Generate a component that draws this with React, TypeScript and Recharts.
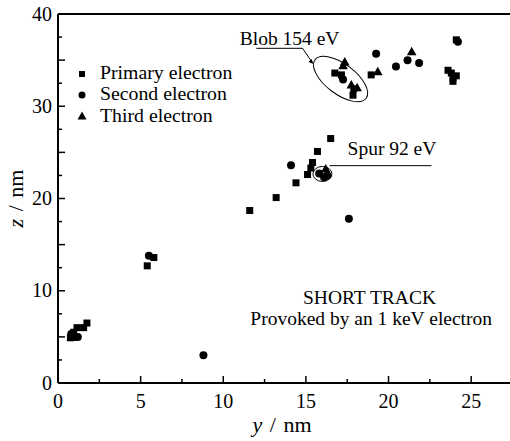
import React from 'react';
import {
  ScatterChart,
  Scatter,
  XAxis,
  YAxis,
  Legend,
  ReferenceLine,
  ReferenceDot,
  Label,
} from 'recharts';

// values (y and z in nm)
const primary = [
  { y: 0.75, z: 4.9 }, { y: 0.95, z: 5.5 }, { y: 1.15, z: 6.0 }, { y: 1.55, z: 6.0 },
  { y: 1.75, z: 6.5 }, { y: 5.4, z: 12.7 }, { y: 5.8, z: 13.6 }, { y: 11.6, z: 18.7 },
  { y: 13.2, z: 20.1 }, { y: 14.4, z: 21.7 }, { y: 15.1, z: 22.6 }, { y: 15.3, z: 23.3 },
  { y: 15.4, z: 23.9 }, { y: 15.7, z: 25.1 }, { y: 16.5, z: 26.5 }, { y: 16.75, z: 33.6 },
  { y: 17.15, z: 33.4 }, { y: 17.9, z: 31.9 }, { y: 17.85, z: 31.2 }, { y: 18.95, z: 33.4 },
  { y: 23.6, z: 33.9 }, { y: 23.8, z: 33.6 }, { y: 23.9, z: 33.1 }, { y: 23.9, z: 32.7 },
  { y: 24.1, z: 33.3 }, { y: 24.1, z: 37.2 },
];
const second = [
  { y: 0.8, z: 5.3 }, { y: 1.0, z: 5.0 }, { y: 1.2, z: 5.0 }, { y: 5.5, z: 13.8 },
  { y: 8.8, z: 3.0 }, { y: 14.1, z: 23.6 }, { y: 15.8, z: 22.7 }, { y: 16.1, z: 22.3 },
  { y: 16.3, z: 22.5 }, { y: 17.6, z: 17.8 }, { y: 17.25, z: 32.9 }, { y: 19.25, z: 35.7 },
  { y: 20.45, z: 34.3 }, { y: 21.15, z: 35.0 }, { y: 21.85, z: 34.7 }, { y: 24.2, z: 37.0 },
];
const third = [
  { y: 16.2, z: 23.2 }, { y: 17.35, z: 34.8 }, { y: 17.25, z: 34.4 }, { y: 17.75, z: 32.3 },
  { y: 18.1, z: 32.0 }, { y: 19.35, z: 33.75 }, { y: 21.4, z: 35.9 },
];

const yTicks = [0, 2.5, 5, 7.5, 10, 12.5, 15, 17.5, 20, 22.5, 25];
const zTicks = [0, 2.5, 5, 7.5, 10, 12.5, 15, 17.5, 20, 22.5, 25, 27.5, 30, 32.5, 35, 37.5, 40];

const seriesNames = ['Primary electron', 'Second electron', 'Third electron'];
const blobLabel = 'Blob 154 eV';
const spurLabel = 'Spur 92 eV';
const noteLines = ['SHORT TRACK', 'Provoked by an 1 keV electron'];

const font = "'Liberation Serif', 'DejaVu Serif', serif";

const Square = (p: any) => (
  <rect x={p.cx - 3.5} y={p.cy - 3.5} width={7} height={7} fill="#000" />
);
const Circle = (p: any) => <circle cx={p.cx} cy={p.cy} r={4} fill="#000" />;
const Triangle = (p: any) => (
  <polygon
    points={`${p.cx},${p.cy - 5} ${p.cx - 4.8},${p.cy + 3.5} ${p.cx + 4.8},${p.cy + 3.5}`}
    fill="#000"
  />
);

const XTick = (props: any) => {
  const { x, y, payload } = props;
  const v = payload.value;
  const major = v % 5 === 0;
  return (
    <g>
      <line x1={x} x2={x} y1={y} y2={y - (major ? 7 : 4)} stroke="#000" strokeWidth={1.5} />
      {major && (
        <text x={x} y={y + 25} textAnchor="middle" style={{ fontFamily: font }} fontSize={20} fill="#000">
          {v}
        </text>
      )}
    </g>
  );
};

const YTick = (props: any) => {
  const { x, y, payload } = props;
  const v = payload.value;
  const major = v % 5 === 0;
  return (
    <g>
      <line x1={x} x2={x + (major ? 7 : 4)} y1={y} y2={y} stroke="#000" strokeWidth={1.5} />
      {v % 10 === 0 && (
        <text x={x - 6} y={y + 6.5} textAnchor="end" style={{ fontFamily: font }} fontSize={20} fill="#000">
          {v}
        </text>
      )}
    </g>
  );
};

const legendIcons = [
  <rect key="s" x={5} y={3} width={6} height={6} fill="#000" />,
  <circle key="c" cx={8} cy={6} r={3.5} fill="#000" />,
  <polygon key="t" points="8,1.5 3.5,9.5 12.5,9.5" fill="#000" />,
];

const LegendBox = () => (
  <div style={{ fontFamily: font, fontSize: 19.8, color: '#000' }}>
    {seriesNames.map((name, i) => (
      <div key={name} style={{ display: 'flex', alignItems: 'center', height: 21.3 }}>
        <svg width={16} height={12} style={{ marginTop: 2 }}>
          {legendIcons[i]}
        </svg>
        <span style={{ marginLeft: 10, whiteSpace: 'nowrap' }}>{name}</span>
      </div>
    ))}
  </div>
);

const textShape = (content: string, anchor: string = 'start', size: number = 19.5) => (p: any) => (
  <text x={p.cx} y={p.cy} textAnchor={anchor} style={{ fontFamily: font }} fontSize={size} fill="#000">
    {content}
  </text>
);

export default function App() {
  return (
    <div style={{ position: 'absolute', left: 0, top: 0, width: 510, height: 441, background: '#fff', fontFamily: font }}>
      <ScatterChart width={510} height={441} margin={{ top: 14, right: 0, left: 8, bottom: 8 }} style={{ fontFamily: font }}>
        <XAxis
          dataKey="y"
          type="number"
          domain={[0, 27.35]}
          ticks={yTicks}
          interval={0}
          tickSize={0}
          tickMargin={0}
          tick={<XTick />}
          height={50}
          axisLine={{ stroke: '#000', strokeWidth: 2 }}
          allowDataOverflow
        >
          <Label
            content={(p: any) => {
              const vb = p.viewBox;
              return (
                <text x={vb.x + vb.width / 2 - 2} y={vb.y + 49} textAnchor="middle" style={{ fontFamily: font, wordSpacing: 2 }} fontSize={22} fill="#000">
                  <tspan fontStyle="italic">y</tspan> / nm
                </text>
              );
            }}
          />
        </XAxis>
        <YAxis
          dataKey="z"
          type="number"
          domain={[0, 40]}
          ticks={zTicks}
          interval={0}
          tickSize={0}
          tickMargin={0}
          tick={<YTick />}
          width={50}
          axisLine={{ stroke: '#000', strokeWidth: 2 }}
        >
          <Label
            content={(p: any) => {
              const vb = p.viewBox;
              const cx = vb.x + 15;
              const cy = vb.y + vb.height / 2;
              return (
                <text x={cx} y={cy} transform={`rotate(-90 ${cx} ${cy})`} textAnchor="middle" style={{ fontFamily: font, wordSpacing: 2 }} fontSize={22} fill="#000">
                  <tspan fontStyle="italic">z</tspan> / nm
                </text>
              );
            }}
          />
        </YAxis>
        <ReferenceLine y={40} stroke="#000" strokeWidth={2} />

        <Scatter name={seriesNames[0]} data={primary} shape={Square} isAnimationActive={false} />
        <Scatter name={seriesNames[1]} data={second} shape={Circle} isAnimationActive={false} />
        <Scatter name={seriesNames[2]} data={third} shape={Triangle} isAnimationActive={false} />

        {/* blob annotation */}
        <ReferenceDot
          x={17.1}
          y={32.95}
          r={0}
          shape={(p: any) => (
            <ellipse cx={p.cx} cy={p.cy} rx={32} ry={15} transform={`rotate(37 ${p.cx} ${p.cy})`} fill="none" stroke="#000" strokeWidth={1} />
          )}
        />
        <ReferenceLine segment={[{ x: 12.0, y: 36.28 }, { x: 14.8, y: 36.28 }]} stroke="#000" strokeWidth={1} />
        <ReferenceLine segment={[{ x: 14.8, y: 36.28 }, { x: 15.4, y: 34.7 }]} stroke="#000" strokeWidth={1} />
        <ReferenceDot
          x={15.4}
          y={34.7}
          r={0}
          shape={(p: any) => (
            <polygon
              points={`${p.cx + 1},${p.cy + 1} ${p.cx - 4},${p.cy - 1} ${p.cx - 1},${p.cy - 4}`}
              fill="#000"
            />
          )}
        />
        <ReferenceDot x={11.0} y={36.64} r={0} shape={textShape(blobLabel)} />

        {/* spur annotation */}
        <ReferenceDot
          x={16.0}
          y={22.66}
          r={0}
          shape={(p: any) => (
            <ellipse cx={p.cx} cy={p.cy} rx={9.5} ry={7.5} fill="none" stroke="#000" strokeWidth={1} />
          )}
        />
        <ReferenceLine segment={[{ x: 16.43, y: 23.56 }, { x: 22.6, y: 23.56 }]} stroke="#000" strokeWidth={1} />
        <ReferenceDot x={17.52} y={24.7} r={0} shape={textShape(spurLabel)} />

        <ReferenceDot x={18.85} y={8.6} r={0} shape={textShape(noteLines[0], 'middle', 19.5)} />
        <ReferenceDot x={18.95} y={6.3} r={0} shape={textShape(noteLines[1], 'middle', 19.5)} />

        <Legend
          layout="vertical"
          align="center"
          verticalAlign="middle"
          wrapperStyle={{ left: 74, top: 62, width: 220, height: 66 }}
          content={() => <LegendBox />}
        />
      </ScatterChart>
    </div>
  );
}
